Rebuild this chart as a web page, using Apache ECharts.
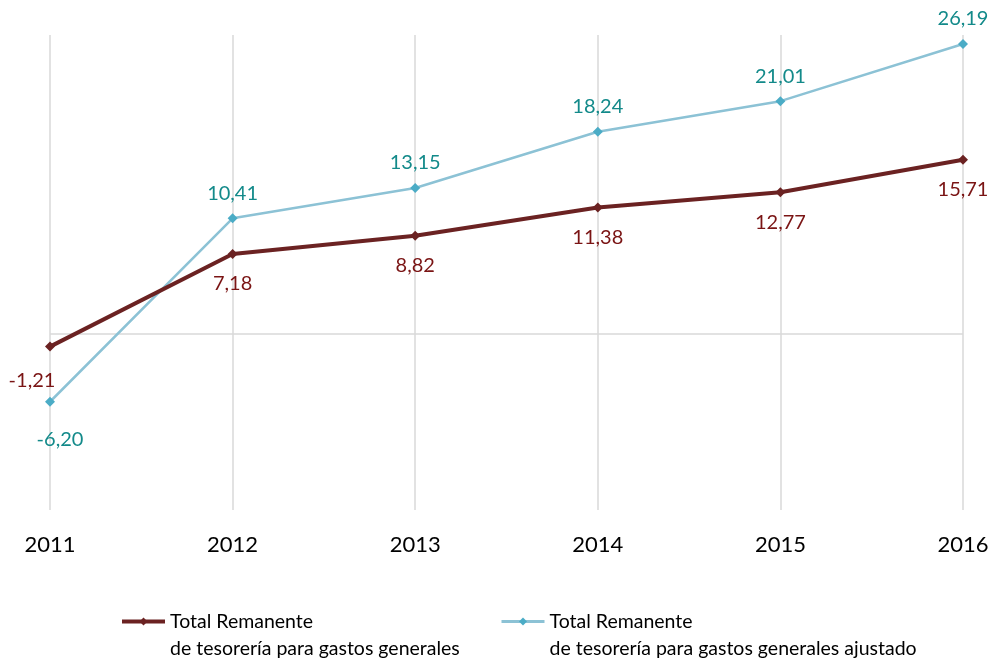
<!DOCTYPE html>
<html>
<head>
<meta charset="utf-8">
<script src="https://cdn.jsdelivr.net/npm/echarts@6/dist/echarts.min.js"></script>
<style>
  html, body { margin: 0; padding: 0; background: #fff; }
  #chart { width: 993px; height: 662px; }
</style>
</head>
<body>
<div id="chart"></div>
<script>
// Years on the category axis
const years = ['2011', '2012', '2013', '2014', '2015', '2016'];

// Series names (two-line legend text)
const nameTotal = 'Total Remanente\nde tesorería para gastos generales';
const nameAdjusted = 'Total Remanente\nde tesorería para gastos generales ajustado';

// Values (millions)
const totalValues = [-1.21, 7.18, 8.82, 11.38, 12.77, 15.71];
const adjustedValues = [-6.20, 10.41, 13.15, 18.24, 21.01, 26.19];

const darkRed = '#6B2222';
const darkRedText = '#7A1414';
const lightBlue = '#8CC2D5';
const blueMarker = '#4BACC6';
const tealText = '#138A8A';

const fmt = v => v.toFixed(2).replace('.', ',');

// Per-point data items; the first point gets its own label placement
function buildData(values, firstLabel) {
  return values.map((v, i) => {
    const item = { value: v };
    if (i === 0) item.label = firstLabel;
    return item;
  });
}

// Legend text: a blank leading line keeps the icon level with the first line
const legendText = {
  fontSize: 19.5, color: '#000', lineHeight: 27, fontFamily: 'Lato'
};
const legendFormatter = name => ' \n' + name;

const chart = echarts.init(document.getElementById('chart'), null, { renderer: 'canvas' });

chart.setOption({
  animation: false,
  backgroundColor: '#ffffff',
  textStyle: { fontFamily: 'Lato' },
  grid: { left: 50, right: 30, top: 35, bottom: 152, containLabel: false },
  legend: [
    {
      data: [nameTotal],
      left: 120, top: 581, padding: 0,
      itemWidth: 43, itemHeight: 10,
      formatter: legendFormatter,
      textStyle: legendText,
      lineStyle: { width: 4 },
      selectedMode: false
    },
    {
      data: [nameAdjusted],
      left: 500, top: 581, padding: 0,
      itemWidth: 43, itemHeight: 10,
      formatter: legendFormatter,
      textStyle: legendText,
      lineStyle: { width: 3 },
      selectedMode: false
    }
  ],
  xAxis: {
    type: 'category',
    data: years,
    boundaryGap: false,
    axisLine: { show: false, onZero: false },
    axisTick: { show: false },
    axisLabel: { fontSize: 22, color: '#000', margin: 24, fontFamily: 'Lato' },
    splitLine: { show: true, lineStyle: { color: '#D9D9D9', width: 1.5 } }
  },
  yAxis: {
    type: 'value',
    min: -16,
    max: 27,
    axisLine: { show: false },
    axisTick: { show: false },
    axisLabel: { show: false },
    splitLine: { show: false }
  },
  series: [
    {
      name: nameAdjusted,
      type: 'line',
      data: buildData(adjustedValues, { position: 'bottom', distance: 23, offset: [10, 0] }),
      symbol: 'diamond',
      symbolSize: 10,
      itemStyle: { color: blueMarker },
      lineStyle: { color: lightBlue, width: 2.5 },
      z: 3,
      label: {
        show: true, position: 'top', distance: 10,
        fontSize: 20, color: tealText, fontFamily: 'Lato',
        formatter: p => fmt(p.value)
      },
      markLine: {
        silent: true,
        symbol: 'none',
        label: { show: false },
        lineStyle: { color: '#D9D9D9', width: 1.5, type: 'solid' },
        data: [{ yAxis: 0 }],
        z: 1
      }
    },
    {
      name: nameTotal,
      type: 'line',
      data: buildData(totalValues, { position: 'bottom', distance: 19, offset: [-18, 0] }),
      symbol: 'diamond',
      symbolSize: 10,
      itemStyle: { color: darkRed },
      lineStyle: { color: darkRed, width: 4 },
      z: 4,
      label: {
        show: true, position: 'bottom', distance: 15,
        fontSize: 20, color: darkRedText, fontFamily: 'Lato',
        formatter: p => fmt(p.value)
      }
    }
  ]
});
</script>
</body>
</html>
